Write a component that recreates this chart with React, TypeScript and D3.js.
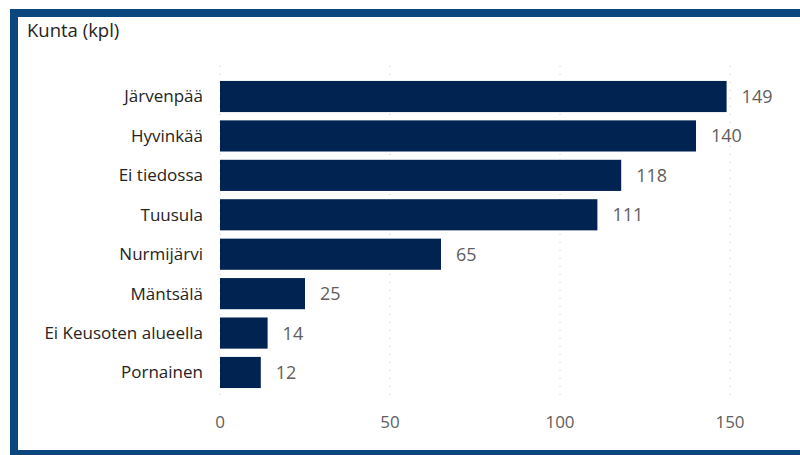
import React from "react";
import * as d3 from "d3";

const categories = [
  "Järvenpää",
  "Hyvinkää",
  "Ei tiedossa",
  "Tuusula",
  "Nurmijärvi",
  "Mäntsälä",
  "Ei Keusoten alueella",
  "Pornainen",
];
const values = [149, 140, 118, 111, 65, 25, 14, 12];
const ticks = [0, 50, 100, 150];

const W = 800;
const H = 455;
const FONT = "'Open Sans', 'Noto Sans', sans-serif";

const App: React.FC = () => {
  const x = d3.scaleLinear().domain([0, 150]).range([220, 730]);
  const y = d3
    .scaleBand<string>()
    .domain(categories)
    .range([77, 392])
    .paddingInner(0.21)
    .paddingOuter(0.1);

  return (
    <svg
      width={W}
      height={H}
      style={{ position: "absolute", left: 0, top: 0, background: "#fff" }}
    >
      {/* frame */}
      <rect x={10} y={9} width={W - 10} height={H - 9} fill="#0b477f" />
      <rect x={18} y={17} width={W - 18} height={433} fill="#fff" />

      <text x={27} y={37} fontFamily={FONT} fontSize={18.5} fill="#252423">
        Kunta (kpl)
      </text>

      {/* grid */}
      {ticks.map((t) => (
        <line
          key={t}
          x1={x(t)}
          x2={x(t)}
          y1={66}
          y2={402}
          stroke="#c8c6c4"
          strokeWidth={1}
          strokeDasharray="1 7"
        />
      ))}

      {ticks.map((t) => (
        <text
          key={"t" + t}
          x={x(t)}
          y={428}
          textAnchor="middle"
          fontFamily={FONT}
          fontSize={17}
          fill="#605e5c"
        >
          {t}
        </text>
      ))}

      {categories.map((c, i) => {
        const yy = y(c)!;
        const cy = yy + y.bandwidth() / 2;
        return (
          <g key={c}>
            <rect
              x={x(0)}
              y={yy}
              width={x(values[i]) - x(0)}
              height={y.bandwidth()}
              fill="#002351"
            />
            <text
              x={203}
              y={cy}
              dy="0.35em"
              textAnchor="end"
              fontFamily={FONT}
              fontSize={17}
              fill="#252423"
            >
              {c}
            </text>
            <text
              x={x(values[i]) + 15}
              y={cy}
              dy="0.36em"
              fontFamily={FONT}
              fontSize={18}
              fill="#605e5c"
            >
              {values[i]}
            </text>
          </g>
        );
      })}
    </svg>
  );
};

export default App;
